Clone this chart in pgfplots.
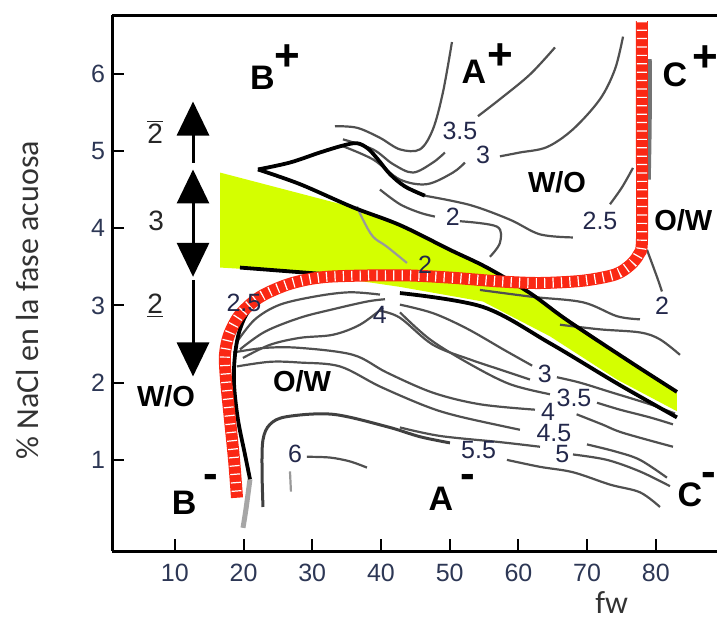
\documentclass[border=0pt]{standalone}
\usepackage{pgfplots}
\pgfplotsset{compat=1.18}
\usepackage{fontspec}
\setmainfont{Liberation Sans}
\newfontfamily\calib{Carlito}
\usetikzlibrary{arrows.meta}
\definecolor{tickcol}{RGB}{45,55,85}
\definecolor{numcol}{RGB}{35,40,75}
\definecolor{limeg}{RGB}{212,255,0}
\definecolor{hred}{RGB}{250,40,20}
\definecolor{cg}{RGB}{80,80,80}
\pgfplotsset{
  cont/.style={no marks, smooth, tension=0.55, color=cg, line width=1.1pt},
  blk/.style={no marks, smooth, tension=0.55, color=black, line width=1.9pt},
}
\tikzset{
  bigl/.style={font=\bfseries\fontsize{17}{19}\selectfont},
  plusl/.style={font=\bfseries\fontsize{22}{24}\selectfont},
  phase/.style={font=\bfseries\fontsize{14.5}{16}\selectfont},
  num/.style={font=\fontsize{12.5}{14}\selectfont, text=numcol, inner sep=0.3pt},
  leftnum/.style={font=\fontsize{14}{16}\selectfont, text=black!85},
}
\begin{document}
\begin{tikzpicture}
\begin{axis}[
  name=ax, scale only axis, width=302.5pt, height=268pt,
  xmin=0.86, xmax=88.9, ymin=-0.18, ymax=6.76,
  axis x line=box, axis y line=left,
  axis line style={-, line width=1.5pt, black},
  tick pos=left, tick align=inside, major tick length=6pt,
  every tick/.style={black, line width=1pt},
  xtick={10,20,...,80}, ytick={1,...,6},
  tick label style={font=\fontsize{12.5}{14}\selectfont, text=tickcol},
  xticklabel style={yshift=-3pt},
  /pgf/number format/assume math mode=true,
  xlabel={fw}, ylabel={\% NaCl en la fase acuosa},
  xlabel style={font=\calib\fontsize{16}{18}\selectfont, text=black!80, at={(axis description cs:0.826,-0.097)}, anchor=center},
  ylabel style={font=\calib\fontsize{16}{18}\selectfont, text=black!80, at={(axis description cs:-0.139,0.468)}, anchor=center},
  no markers,
]
% yellow-green region
\addplot[fill=limeg, draw=none] coordinates {
 (16.58,4.72) (35.93,4.27) (42.76,4.04) (50.04,3.72) (55.42,3.49) (61.68,3.17)
 (67.07,2.82) (76.24,2.27) (83.07,1.87) (83.07,1.63) (74.35,2.04) (64.59,2.60)
 (54.84,3.05) (42.76,3.24) (28.21,3.43) (16.58,3.49)} --cycle;
\addplot[cont, color=black!40] coordinates {(36.51,4.28) (37.38,4.11) (38.84,3.89) (40.87,3.76) (43.78,3.55)};
% upper contours
\addplot[cont] coordinates {(33.31,5.32) (36.51,5.30) (39.85,5.17) (42.76,5.02) (45.67,5.02) (47.56,5.28) (49.02,5.76) (50.33,6.41)};
\addplot[cont] coordinates {(34.47,5.15) (38.84,5.02) (41.74,4.83) (44.65,4.72) (47.56,4.85) (49.31,4.98)};
\addplot[cont] coordinates {(54.11,5.45) (57.31,5.67) (61.68,5.99) (65.32,6.34)};
\addplot[cont] coordinates {(34.47,5.06) (38.84,4.89) (42.76,4.63) (46.69,4.57) (50.47,4.72) (52.22,4.85)};
\addplot[cont] coordinates {(57.31,4.93) (60.22,4.98) (64.15,5.05) (67.94,5.28) (71.87,5.67) (74.06,6.06) (75.22,6.48)};
\addplot[cont] coordinates {(46.40,4.42) (52.95,4.30) (58.77,4.11) (63.14,3.92) (67.94,3.88)};
\addplot[cont] coordinates {(73.33,4.31) (75.08,4.53) (76.67,4.78)};
\addplot[cont] coordinates {(39.85,4.50) (42.76,4.31) (45.67,4.20) (47.85,4.15)};
\addplot[cont] coordinates {(51.49,4.09) (56.88,4.02) (57.31,3.81) (55.86,3.63)};
\addplot[cont, line width=1.8pt, color=black!55] coordinates {(79.14,6.19) (79.14,5.4) (79.0,4.63)};
\addplot[cont] coordinates {(78.71,3.72) (80.16,3.37) (80.89,3.18)};
\addplot[cont] coordinates {(54.40,3.20) (62.15,3.11) (69.4,3.04) (74.35,2.86) (77.69,2.82)};
\addplot[cont] coordinates {(66.05,2.75) (71.87,2.69) (77.69,2.65) (80.6,2.56) (83.51,2.36)};
% lower contours
\addplot[cont] coordinates {(19.05,2.53) (21.67,2.82) (25.31,3.01) (30.69,3.12) (35.49,3.17) (39.85,3.14)};
\addplot[cont] coordinates {(19.48,2.43) (23.12,2.66) (28.21,2.84) (33.01,2.95) (37.96,3.05) (40.58,3.08)};
\addplot[cont] coordinates {(19.92,2.32) (23.85,2.49) (28.21,2.58) (33.01,2.62) (36.94,2.75) (40.29,2.97)};
\addplot[cont] coordinates {(42.76,3.01) (47.56,2.90) (52.51,2.70) (58.0,2.42) (62.0,2.22)};
\addplot[cont] coordinates {(39.85,2.93) (42.76,2.84) (47.56,2.49) (52.95,2.30) (57.31,2.17) (61.68,2.04)};
\addplot[cont] coordinates {(65.6,2.07) (68.96,2.00) (73.33,1.88) (79.14,1.72) (82.78,1.60)};
\addplot[cont] coordinates {(42.76,2.91) (47.13,2.56) (52.95,2.24) (58.77,1.98) (64.59,1.85)};
\addplot[cont] coordinates {(71.44,1.74) (74.78,1.65) (79.14,1.55) (82.49,1.46)};
\addplot[cont] coordinates {(18.47,2.39) (23.12,2.45) (28.21,2.45) (35.93,2.36) (40.87,2.13) (47.56,1.87) (54.40,1.72) (62.41,1.65)};
\addplot[cont] coordinates {(68.47,1.59) (72.17,1.46) (75.22,1.35) (82.49,1.17)};
\addplot[cont] coordinates {(19.05,2.21) (23.85,2.27) (28.21,2.26) (34.03,2.21) (39.85,1.95) (46.69,1.69) (51.49,1.56) (60.22,1.39)};
\addplot[cont] coordinates {(69.98,1.20) (74.06,1.11) (77.69,1.00) (81.61,0.77)};
\addplot[cont] coordinates {(42.76,1.42) (48.58,1.31) (57.31,1.23) (63.14,1.17)};
\addplot[cont] coordinates {(67.94,1.07) (72.89,1.00) (77.69,0.85) (82.05,0.66)};
\addplot[cont, line width=1.5pt, color=black!75] coordinates {(22.83,0.39) (22.69,0.87) (22.83,1.26) (23.85,1.46) (26.32,1.56) (33.01,1.59) (40.87,1.43) (45.67,1.30) (50.04,1.22)};
\addplot[cont] coordinates {(58.33,1.00) (63.14,0.91) (67.94,0.84) (73.33,0.68) (77.69,0.58) (80.6,0.39)};
\addplot[cont] coordinates {(29.23,1.04) (32.58,1.03) (35.49,0.98) (37.96,0.90)};
\addplot[cont, color=black!40] coordinates {(26.76,0.85) (26.9,0.59)};
\addplot[cont, color=black!35, line width=2.5pt] coordinates {(20.94,0.75) (20.35,0.36) (19.92,0.12)};
% thick black boundaries
\addplot[blk] coordinates {(22.10,4.76) (28.21,4.57) (35.93,4.27) (42.76,4.04) (50.04,3.72) (55.42,3.49) (61.68,3.16) (67.07,2.81) (76.24,2.27) (83.07,1.88)};
\addplot[blk] coordinates {(22.10,4.76) (26.76,4.85) (31.12,4.98) (34.47,5.07) (36.51,5.10) (38.11,5.03) (39.56,4.89) (41.31,4.70) (43.49,4.54) (46.40,4.42)};
\addplot[blk] coordinates {(42.76,3.16) (54.84,2.98) (64.59,2.51) (74.35,1.99) (83.07,1.55)};
\addplot[blk] coordinates {(19.48,3.49) (26.76,3.44) (32.58,3.40)};
\addplot[blk] coordinates {(23.85,3.14) (20.94,2.95) (19.48,2.69) (18.76,2.36) (18.62,1.98) (19.19,1.52) (20.21,1.07) (20.94,0.75)};
% red hatched boundary
\addplot[hred, line width=6pt, smooth, tension=0.5] coordinates {
 (77.98,6.68) (77.98,5.02) (77.98,3.85) (77.5,3.66) (76.24,3.52) (74.06,3.40) (69.40,3.32)
 (63.14,3.29) (57.31,3.31) (50.04,3.36) (42.76,3.39) (32.14,3.37) (26.76,3.28) (22.40,3.11)
 (19.48,2.88) (17.9,2.62) (17.30,2.36) (17.45,2.04) (18.03,1.52) (18.62,1.00) (19.05,0.51)};
\addplot[white, line width=5pt, smooth, tension=0.5, dash pattern=on 0.6pt off 3.6pt] coordinates {
 (77.98,6.68) (77.98,5.02) (77.98,3.85) (77.5,3.66) (76.24,3.52) (74.06,3.40) (69.40,3.32)
 (63.14,3.29) (57.31,3.31) (50.04,3.36) (42.76,3.39) (32.14,3.37) (26.76,3.28) (22.40,3.11)
 (19.48,2.88) (17.9,2.62) (17.30,2.36) (17.45,2.04) (18.03,1.52) (18.62,1.00) (19.05,0.51)};
% arrows
\addplot[black, line width=1.5pt, -{Triangle[width=16pt,length=17pt]}] coordinates {(12.65,4.85) (12.65,5.64)};
\addplot[black, line width=1.5pt, {Triangle[width=16pt,length=17pt]}-{Triangle[width=16pt,length=17pt]}] coordinates {(12.65,4.76) (12.65,3.37)};
\addplot[black, line width=1.5pt, -{Triangle[width=16pt,length=17pt]}] coordinates {(12.65,3.33) (12.65,2.08)};
% labels
\node[leftnum] at (axis cs:7.14,5.25) {$\overline{\mbox{2}}$};
\node[leftnum] at (axis cs:7.29,4.09) {3};
\node[leftnum] at (axis cs:7.14,3.00) {\underline{2}};
\node[bigl] at (axis cs:22.73,5.95) {B};
\node[plusl] at (axis cs:26.32,6.21) {+};
\node[bigl] at (axis cs:53.53,6.03) {A};
\node[plusl] at (axis cs:57.31,6.22) {+};
\node[bigl] at (axis cs:82.78,5.99) {C};
\node[plusl] at (axis cs:87.15,6.19) {+};
\node[bigl] at (axis cs:11.36,0.44) {B};
\node[plusl] at (axis cs:15.24,0.72) {-};
\node[bigl] at (axis cs:48.73,0.49) {A};
\node[plusl] at (axis cs:52.67,0.72) {-};
\node[bigl] at (axis cs:84.96,0.55) {C};
\node[plusl] at (axis cs:87.7,0.75) {-};
\node[phase] at (axis cs:65.62,4.59) {W/O};
\node[phase] at (axis cs:84.0,4.10) {O/W};
\node[phase] at (axis cs:28.52,2.02) {O/W};
\node[phase] at (axis cs:8.72,1.82) {W/O};
\node[num] at (axis cs:51.49,5.26) {3.5};
\node[num] at (axis cs:54.84,4.95) {3};
\node[num] at (axis cs:50.47,4.15) {2};
\node[num] at (axis cs:46.40,3.53) {2};
\node[num] at (axis cs:71.87,4.09) {2.5};
\node[num] at (axis cs:20.06,3.03) {2.5};
\node[num] at (axis cs:39.85,2.88) {4};
\node[num] at (axis cs:80.89,2.99) {2};
\node[num] at (axis cs:63.86,2.11) {3};
\node[num] at (axis cs:68.09,1.80) {3.5};
\node[num] at (axis cs:64.30,1.62) {4};
\node[num] at (axis cs:65.17,1.35) {4.5};
\node[num] at (axis cs:66.4,1.08) {5};
\node[num] at (axis cs:54.2,1.13) {5.5};
\node[num] at (axis cs:27.5,1.08) {6};
\end{axis}
\pgfresetboundingbox
\path[use as bounding box] ([xshift=-56pt,yshift=-34pt]ax.south west) rectangle ([yshift=7.5pt]ax.north east);
\end{tikzpicture}
\end{document}
